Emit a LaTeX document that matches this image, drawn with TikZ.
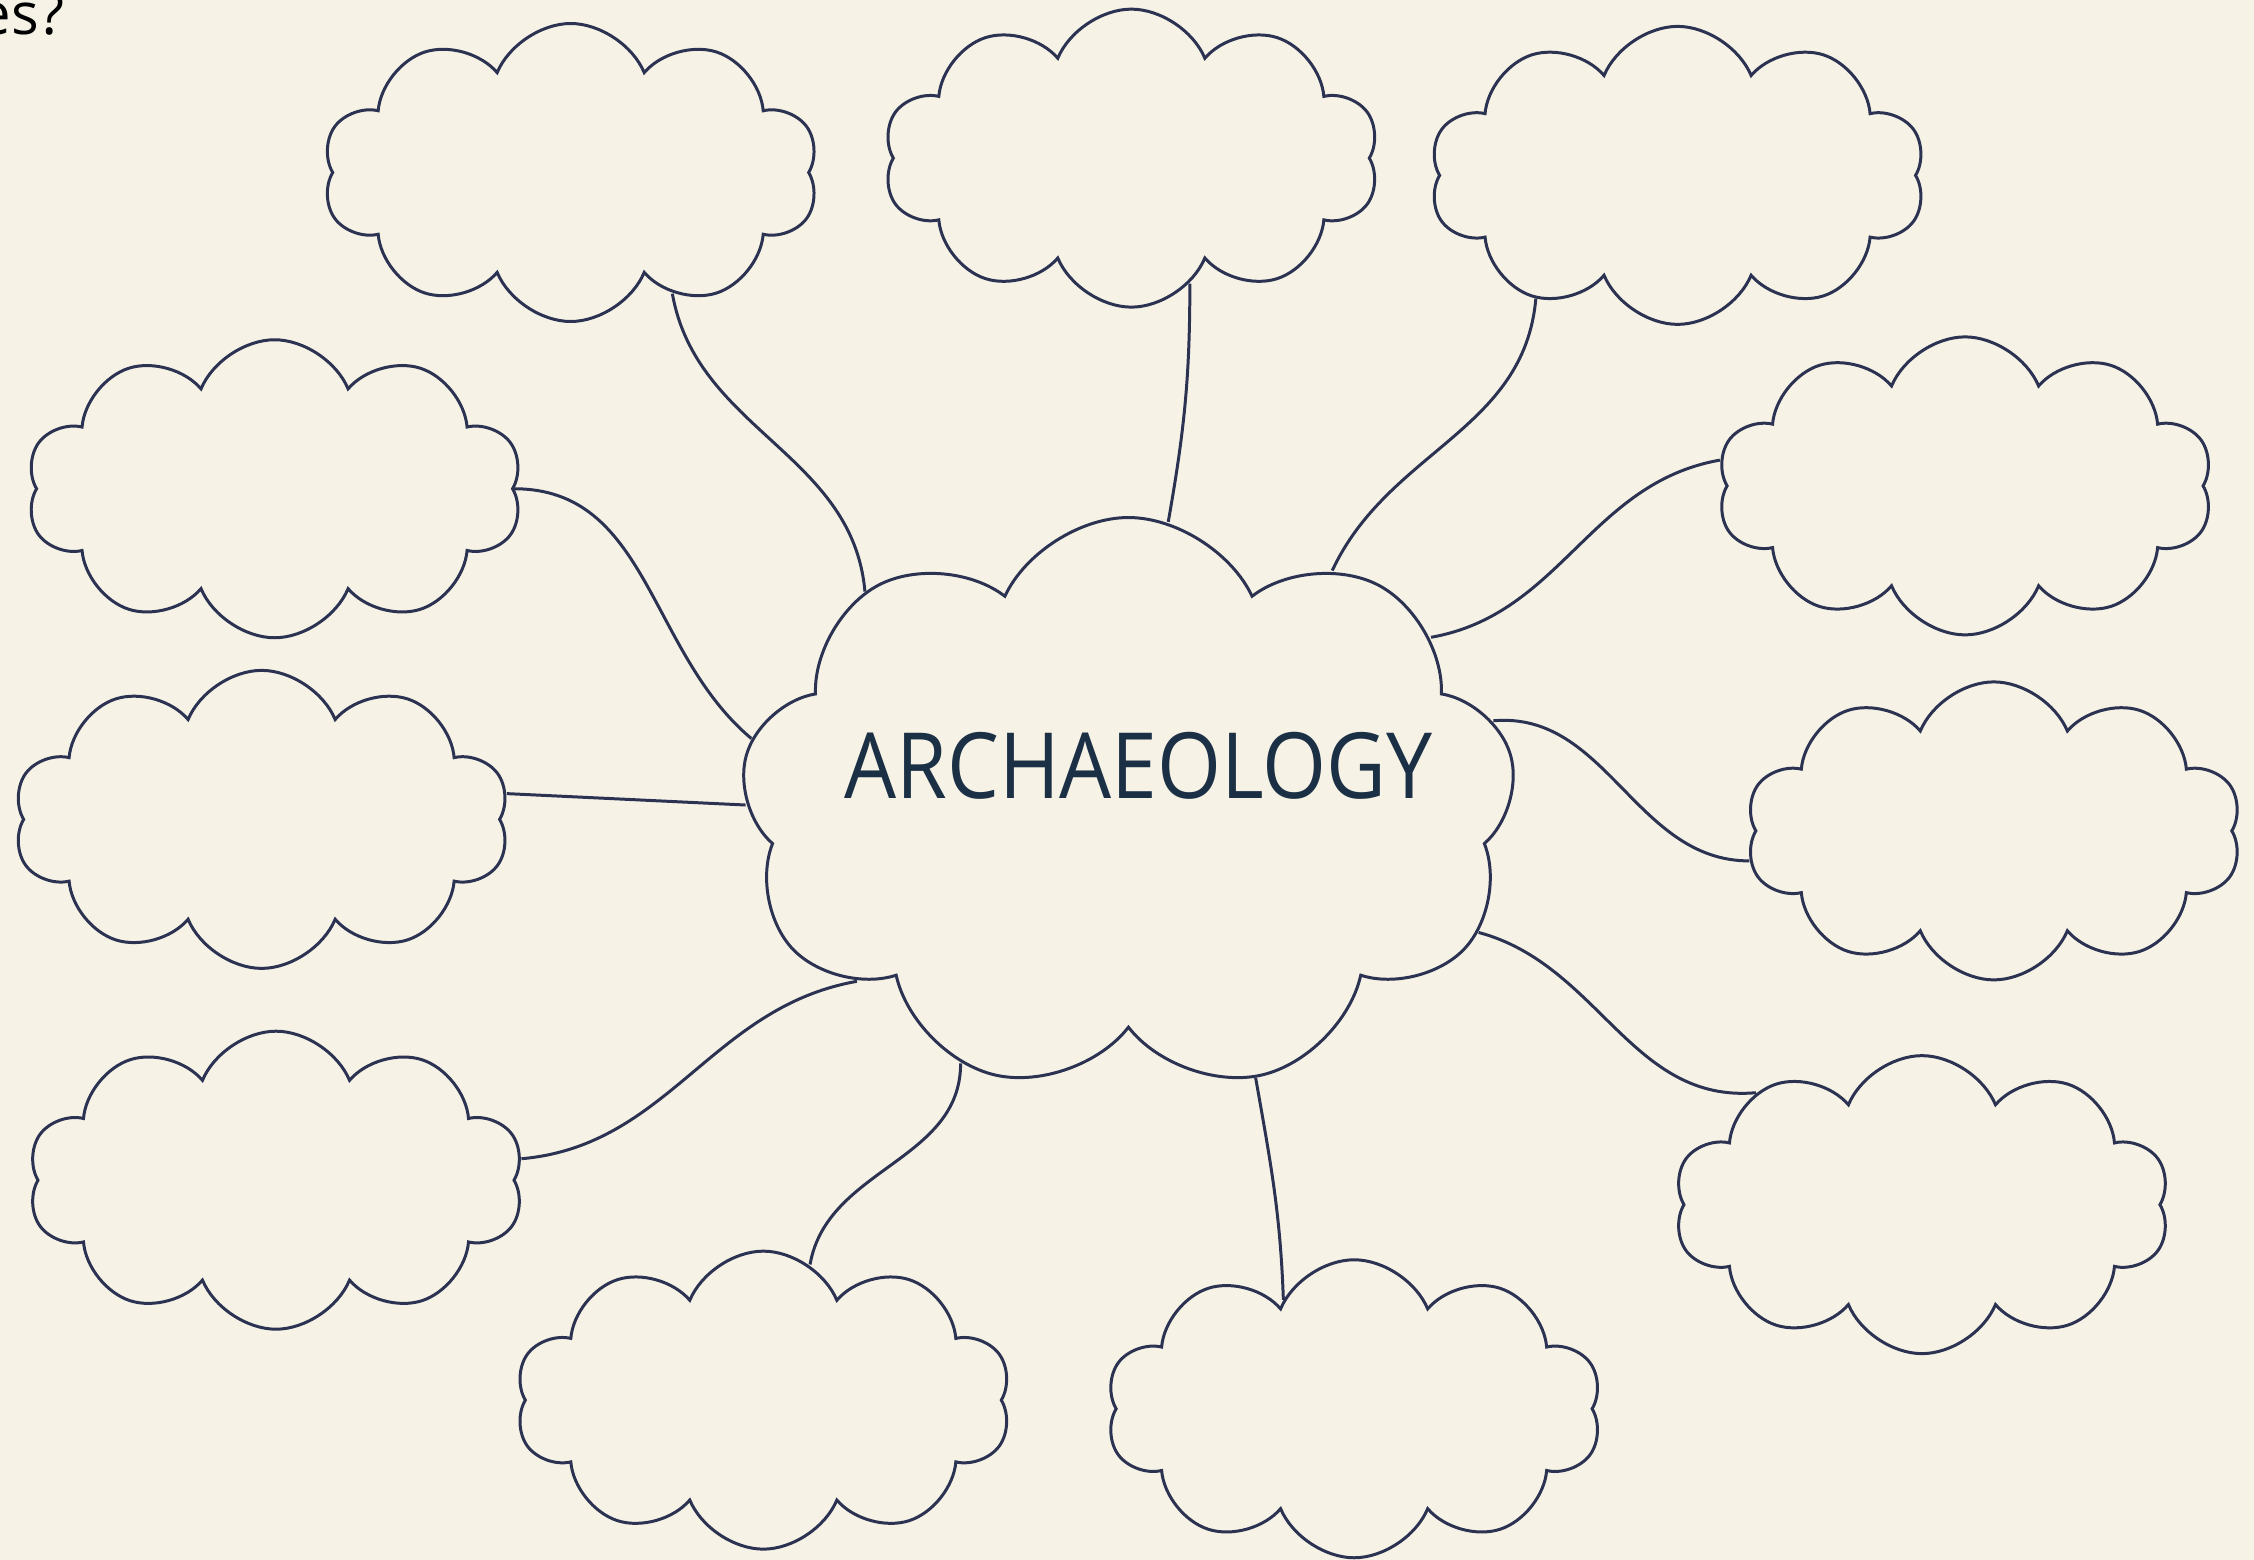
\documentclass[tikz,border=0pt]{standalone}
\usepackage{fontspec}
\setmainfont{Open Sans}
\newfontfamily\hubfont[FakeStretch=0.9]{Open Sans}
\usetikzlibrary{shapes.symbols}
\definecolor{paper}{HTML}{F6F3E6}
\definecolor{ink}{HTML}{2B3252}
\definecolor{titleink}{HTML}{1B2F45}

\begin{document}
\begin{tikzpicture}[x=0.14375mm,y=-0.14375mm,
        puff/.style={draw=ink,line width=0.85pt,cloud,cloud puffs=10,cloud puff arc=135,cloud ignores aspect,
            minimum width=49.6mm,minimum height=29.8mm,inner sep=0pt},
        hub/.style={puff,cloud puffs=9,cloud puff arc=130,minimum width=77.6mm,minimum height=57.5mm},
        link/.style={draw=ink,line width=0.85pt}]
    \fill[paper] (0,0) rectangle (1568,1085);
    \useasboundingbox (0,0) rectangle (1568,1085);

    \node[anchor=base east,inner sep=0pt,text=black,font=\fontsize{16.5}{18}\selectfont] (q) at (45,24) {es?};

    \node[hub] (arch) at (785,560) {};
    \node[text=titleink,font=\hubfont\fontsize{26}{30}\selectfont] (archlabel) at (792,533) {ARCHAEOLOGY};

    \node[puff] (tl) at (397,120) {};
    \node[puff] (tm) at (787,110) {};
    \node[puff] (tr) at (1167,122) {};
    \node[puff] (r1) at (1367,338) {};
    \node[puff] (r2) at (1387,578) {};
    \node[puff] (r3) at (1337,838) {};
    \node[puff] (br) at (942,980) {};
    \node[puff] (bl) at (531,974) {};
    \node[puff] (l3) at (192,821) {};
    \node[puff] (l2) at (182,570) {};
    \node[puff] (l1) at (191,340) {};

    \draw[link] (tl.-50) to[out=-80,in=95] (arch.141);
    \draw[link] (tm.-65) to[out=-90,in=80] (arch.82);
    \draw[link] (tr.-139) to[out=-95,in=65] (arch.49);
    \draw[link] (r1.174) to[out=190,in=10] (arch.29);
    \draw[link] (r2.187) to[out=180,in=5] (arch.13);
    \draw[link] (r3.146) to[out=185,in=-15] (arch.-20);
    \draw[link] (br.123) to[out=92,in=-80] (arch.-65);
    \draw[link] (bl.71) to[out=80,in=-90] (arch.-123);
    \draw[link] (l3.5) to[out=5,in=190] (arch.-147);
    \draw[link] (l2.6) -- (arch.180);
    \draw[link] (l1.0) to[out=0,in=140] (arch.170);
\end{tikzpicture}
\end{document}
